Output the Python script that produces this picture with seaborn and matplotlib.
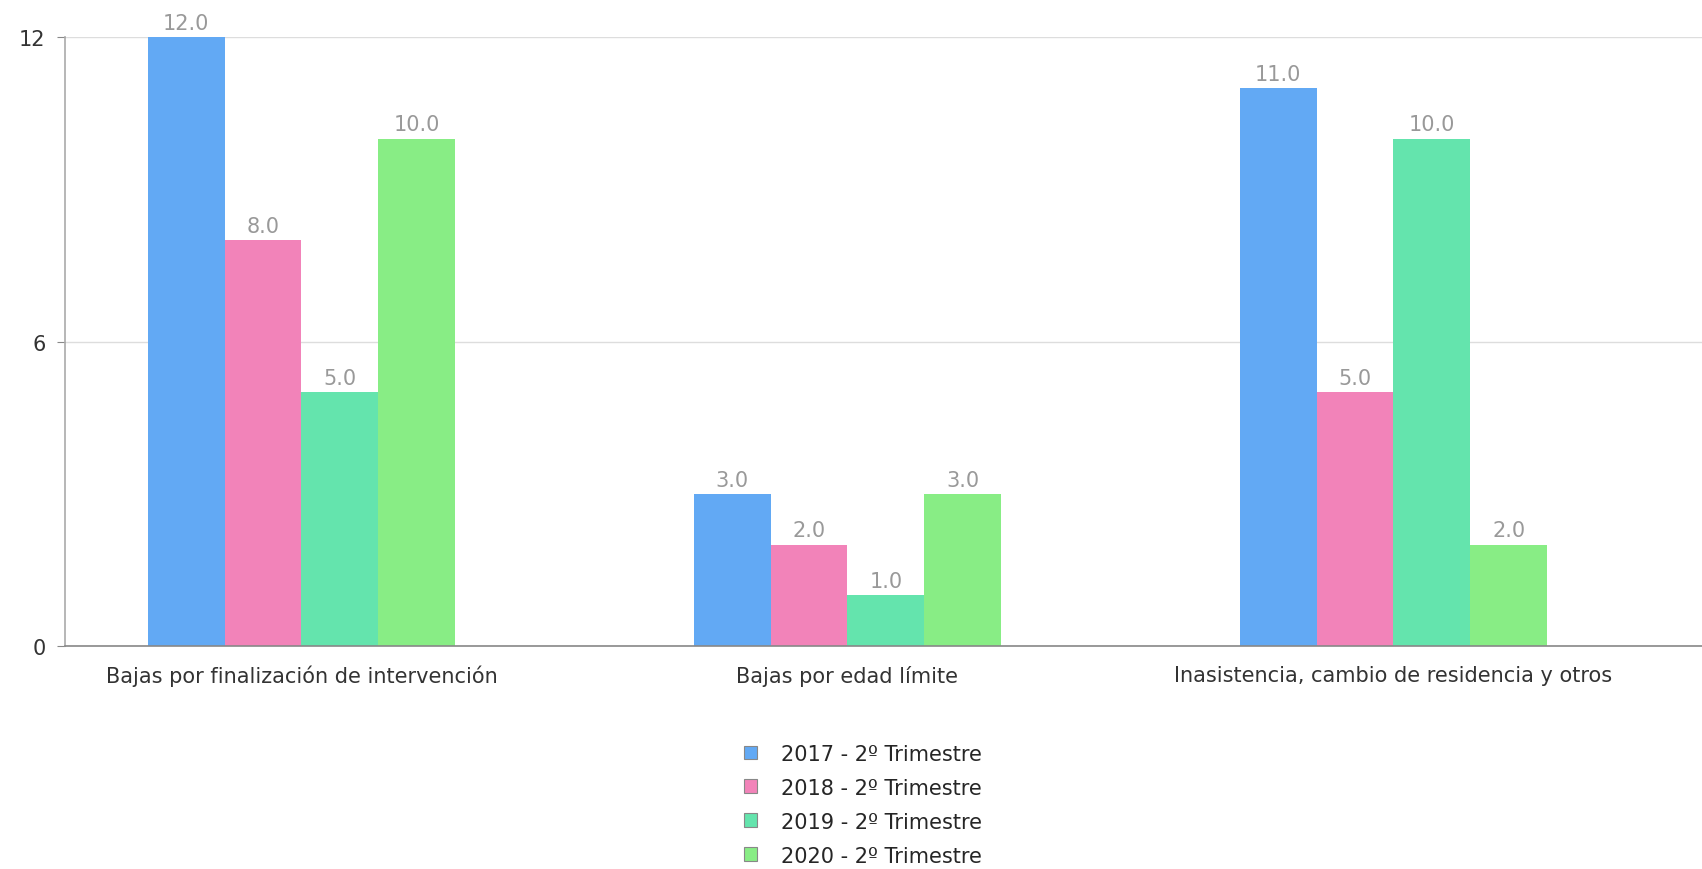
import matplotlib
matplotlib.use("Agg")
import matplotlib.pyplot as plt
import seaborn as sns
import pandas as pd
from matplotlib.patches import Patch

categories = ["Bajas por finalización de intervención", "Bajas por edad límite",
              "Inasistencia, cambio de residencia y otros"]
series = ["2017 - 2º Trimestre", "2018 - 2º Trimestre", "2019 - 2º Trimestre", "2020 - 2º Trimestre"]
values_2017 = [12.0, 3.0, 11.0]
values_2018 = [8.0, 2.0, 5.0]
values_2019 = [5.0, 1.0, 10.0]
values_2020 = [10.0, 3.0, 2.0]
colors = ["#62A9F4", "#F283B9", "#64E4AD", "#88ED85"]
yticks = [0, 6, 12]

rows = []
for s, vals in zip(series, [values_2017, values_2018, values_2019, values_2020]):
    for c, v in zip(categories, vals):
        rows.append({"cat": c, "val": v, "series": s})
df = pd.DataFrame(rows)

sns.set_style("white")
plt.rcParams['font.family'] = 'sans-serif'
plt.rcParams['font.sans-serif'] = ['DejaVu Sans']

FS = 15

fig = plt.figure(figsize=(17.02, 8.7), dpi=100)
ax = fig.add_axes([0.0382, 0.2563, 0.9618, 0.7])

sns.barplot(data=df, x="cat", y="val", hue="series", palette=colors, order=categories,
            hue_order=series, width=0.563, saturation=1, linewidth=0, ax=ax, legend=False,
            errorbar=None)

for cont in ax.containers:
    ax.bar_label(cont, fmt="%.1f", padding=3, color="#999999", fontsize=FS)

ax.set_ylim(0, 12)
ax.set_xlim(-0.433, 2.565)
ax.set_yticks(yticks)
ax.set_yticklabels([str(t) for t in yticks])
ax.yaxis.grid(True, color="#dddddd", linewidth=1)
ax.set_axisbelow(True)
ax.set_xlabel("")
ax.set_ylabel("")
for sp in ["top", "right"]:
    ax.spines[sp].set_visible(False)
ax.spines["left"].set_color("#aaaaaa")
ax.spines["bottom"].set_color("#888888")
ax.spines["left"].set_linewidth(1.2)
ax.spines["bottom"].set_linewidth(1.2)
ax.tick_params(axis="y", left=True, length=6, color="#888888", labelsize=FS, labelcolor="#333333", pad=8)
ax.tick_params(axis="x", bottom=False, labelsize=FS, labelcolor="#333333", pad=10)

handles = [Patch(facecolor=c, edgecolor="#888888", linewidth=0.8) for c in colors]
fig.legend(handles, series, loc="center", bbox_to_anchor=(0.507, 0.074), frameon=False,
           fontsize=FS, handlelength=0.63, handleheight=0.63, handletextpad=1.15,
           labelspacing=0.67, ncol=1)

fig.savefig("out.png", dpi=100)
